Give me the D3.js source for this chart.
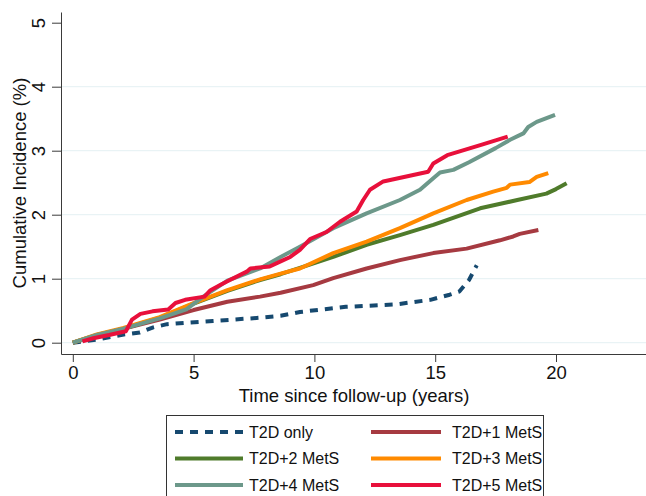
<!DOCTYPE html>
<html>
<head>
<meta charset="utf-8">
<script src="https://cdn.jsdelivr.net/npm/d3@7"></script>
<style>
  body { margin: 0; background: #fff; }
  svg { display: block; font-family: "Liberation Sans", Arial, sans-serif; }
  .axis path, .axis line { stroke: #3a3a3a; }
  .axis text { fill: #111; font-size: 18.5px; font-family: "Liberation Sans", Arial, sans-serif; }
</style>
</head>
<body>
<div id="chart-area"></div>
<script>
// tick labels
var xTicks = [0, 5, 10, 15, 20];
var yTicks = [0, 1, 2, 3, 4, 5];
var gridTicks = [0, 1, 2, 3, 4];

// series: time (years) and cumulative incidence (%)
var onlyT = [0, 1.0, 1.55, 2.16, 2.78, 3.33, 3.9, 4.6, 5.8, 7.75, 8.6, 9.4, 11.3, 13.4, 14.8, 15.6, 16.0, 16.4, 16.72];
var onlyV = [0, 0.05, 0.09, 0.13, 0.16, 0.24, 0.29, 0.31, 0.34, 0.39, 0.42, 0.48, 0.56, 0.60, 0.67, 0.75, 0.80, 0.98, 1.21];

var mets1T = [0, 1, 2.2, 3.6, 5.0, 6.4, 7.75, 8.6, 9.95, 10.78, 12.16, 13.54, 14.92, 16.3, 17.68, 18.23, 18.5, 19.27];
var mets1V = [0, 0.11, 0.23, 0.36, 0.51, 0.64, 0.72, 0.78, 0.90, 1.01, 1.16, 1.29, 1.40, 1.47, 1.60, 1.66, 1.70, 1.76];

var mets2T = [0, 1, 2.1, 3.6, 5.0, 6.4, 7.75, 8.6, 9.4, 10.78, 12.16, 13.54, 14.92, 16.86, 17.7, 18.4, 19.6, 20.0, 20.44];
var mets2V = [0, 0.12, 0.22, 0.39, 0.61, 0.81, 0.98, 1.07, 1.17, 1.34, 1.53, 1.68, 1.84, 2.10, 2.17, 2.23, 2.33, 2.40, 2.49];

var mets3T = [0, 1, 2.1, 3.6, 5.0, 6.4, 7.75, 8.6, 9.4, 10.78, 12.16, 13.54, 14.92, 16.3, 17.4, 17.96, 18.1, 18.9, 19.2, 19.68];
var mets3V = [0, 0.13, 0.23, 0.40, 0.62, 0.82, 0.99, 1.08, 1.16, 1.40, 1.58, 1.79, 2.02, 2.23, 2.36, 2.42, 2.47, 2.51, 2.59, 2.65];

var mets4T = [0, 1, 2.1, 3.6, 4.7, 5.4, 6.4, 7.75, 8.6, 9.4, 10.78, 12.16, 13.54, 14.37, 14.92, 15.2, 15.75, 16.4, 17.5, 18.1, 18.65, 18.85, 19.2, 19.96];
var mets4V = [0, 0.12, 0.22, 0.38, 0.52, 0.72, 0.97, 1.16, 1.34, 1.50, 1.79, 2.02, 2.23, 2.39, 2.57, 2.66, 2.70, 2.82, 3.04, 3.17, 3.27, 3.37, 3.45, 3.56];

var mets5T = [0.4, 0.85, 1.5, 2.2, 2.45, 2.8, 3.3, 3.95, 4.25, 4.65, 5.45, 5.7, 6.1, 6.5, 7.2, 7.35, 8.15, 8.6, 9.0, 9.4, 9.82, 10.5, 11.06, 11.75, 12.02, 12.3, 12.85, 14.71, 14.92, 15.5, 16.9, 18.0];
var mets5V = [0.02, 0.07, 0.12, 0.18, 0.36, 0.45, 0.49, 0.52, 0.62, 0.67, 0.72, 0.82, 0.90, 0.98, 1.11, 1.16, 1.19, 1.27, 1.34, 1.45, 1.62, 1.73, 1.89, 2.05, 2.23, 2.39, 2.52, 2.67, 2.80, 2.93, 3.09, 3.22];

var labels = ["T2D only", "T2D+1 MetS", "T2D+2 MetS", "T2D+3 MetS", "T2D+4 MetS", "T2D+5 MetS"];

var series = [
    {name: labels[0], t: onlyT, v: onlyV, color: "#16496f", dash: "8,7"},
    {name: labels[1], t: mets1T, v: mets1V, color: "#a63a41", dash: null},
    {name: labels[2], t: mets2T, v: mets2V, color: "#4f7b2b", dash: null},
    {name: labels[3], t: mets3T, v: mets3V, color: "#ff8a00", dash: null},
    {name: labels[4], t: mets4T, v: mets4V, color: "#6c988a", dash: null},
    {name: labels[5], t: mets5T, v: mets5V, color: "#e8103b", dash: null}
];

var width = 646, height = 496;
var plotLeft = 61, plotRight = 646, plotTop = 12, plotBottom = 354;

var svg = d3.select("#chart-area").append("svg")
    .attr("width", width)
    .attr("height", height);

// Scales
var x = d3.scaleLinear().domain([0, 20]).range([72.8, 556]);
var y = d3.scaleLinear().domain([0, 5]).range([342.7, 22.7]);

var xAxisScale = d3.scaleLinear()
    .domain([x.invert(plotLeft), x.invert(plotRight)])
    .range([plotLeft, plotRight]);
var yAxisScale = d3.scaleLinear()
    .domain([y.invert(plotBottom), y.invert(plotTop)])
    .range([plotBottom, plotTop]);

// grid
svg.append("g").selectAll("line")
    .data(gridTicks)
    .enter().append("line")
    .attr("x1", plotLeft + 1)
    .attr("x2", plotRight)
    .attr("y1", function(d) { return y(d); })
    .attr("y2", function(d) { return y(d); })
    .attr("stroke", "#e9f3f5")
    .attr("stroke-width", 1.2);

// lines
var line = d3.line()
    .x(function(d) { return x(d[0]); })
    .y(function(d) { return y(d[1]); });

svg.append("g").selectAll("path")
    .data(series)
    .enter().append("path")
    .attr("d", function(s) { return line(s.t.map(function(t, i) { return [t, s.v[i]]; })); })
    .attr("fill", "none")
    .attr("stroke", function(s) { return s.color; })
    .attr("stroke-width", 4)
    .attr("stroke-linejoin", "round")
    .attr("stroke-dasharray", function(s) { return s.dash; });

// axes
var xAxis = d3.axisBottom(xAxisScale)
    .tickValues(xTicks)
    .tickFormat(d3.format("d"))
    .tickSize(8)
    .tickSizeOuter(0)
    .tickPadding(4);

svg.append("g")
    .attr("class", "x-axis axis")
    .attr("transform", "translate(0," + plotBottom + ")")
    .call(xAxis);

var yAxis = d3.axisLeft(yAxisScale)
    .tickValues(yTicks)
    .tickFormat(d3.format("d"))
    .tickSize(9)
    .tickSizeOuter(0);

var yAxisGroup = svg.append("g")
    .attr("class", "y-axis axis")
    .attr("transform", "translate(" + plotLeft + ",0)")
    .call(yAxis);

// rotated y tick labels
yAxisGroup.selectAll(".tick text")
    .attr("x", 0)
    .attr("y", -16)
    .attr("dy", null)
    .attr("text-anchor", "middle")
    .attr("transform", "rotate(-90)");

// axis titles
svg.append("text")
    .attr("x", 354)
    .attr("y", 402)
    .attr("text-anchor", "middle")
    .attr("font-size", "18.5px")
    .attr("fill", "#111")
    .text("Time since follow-up (years)");

svg.append("text")
    .attr("transform", "translate(26,183) rotate(-90)")
    .attr("text-anchor", "middle")
    .attr("font-size", "18.5px")
    .attr("fill", "#111")
    .text("Cumulative Incidence (%)");

// legend
var legend = svg.append("g").attr("class", "legend");

legend.append("rect")
    .attr("x", 166.5)
    .attr("y", 415.5)
    .attr("width", 377)
    .attr("height", 100)
    .attr("fill", "#fff")
    .attr("stroke", "#333")
    .attr("stroke-width", 1);

var cols = [{x1: 175, x2: 243, tx: 249}, {x1: 371, x2: 441, tx: 452}];
var rows = [432, 458.5, 485];

var item = legend.selectAll(".item")
    .data(series)
    .enter().append("g")
    .attr("class", "item")
    .attr("transform", function(d, i) { return "translate(0," + rows[Math.floor(i / 2)] + ")"; });

item.append("line")
    .attr("x1", function(d, i) { return cols[i % 2].x1; })
    .attr("x2", function(d, i) { return cols[i % 2].x2; })
    .attr("y1", 0)
    .attr("y2", 0)
    .attr("stroke", function(d) { return d.color; })
    .attr("stroke-width", 4)
    .attr("stroke-dasharray", function(d) { return d.dash; });

item.append("text")
    .attr("x", function(d, i) { return cols[i % 2].tx; })
    .attr("y", 0)
    .attr("dy", "0.36em")
    .attr("font-size", "16px")
    .attr("fill", "#111")
    .text(function(d) { return d.name; });
</script>
</body>
</html>
